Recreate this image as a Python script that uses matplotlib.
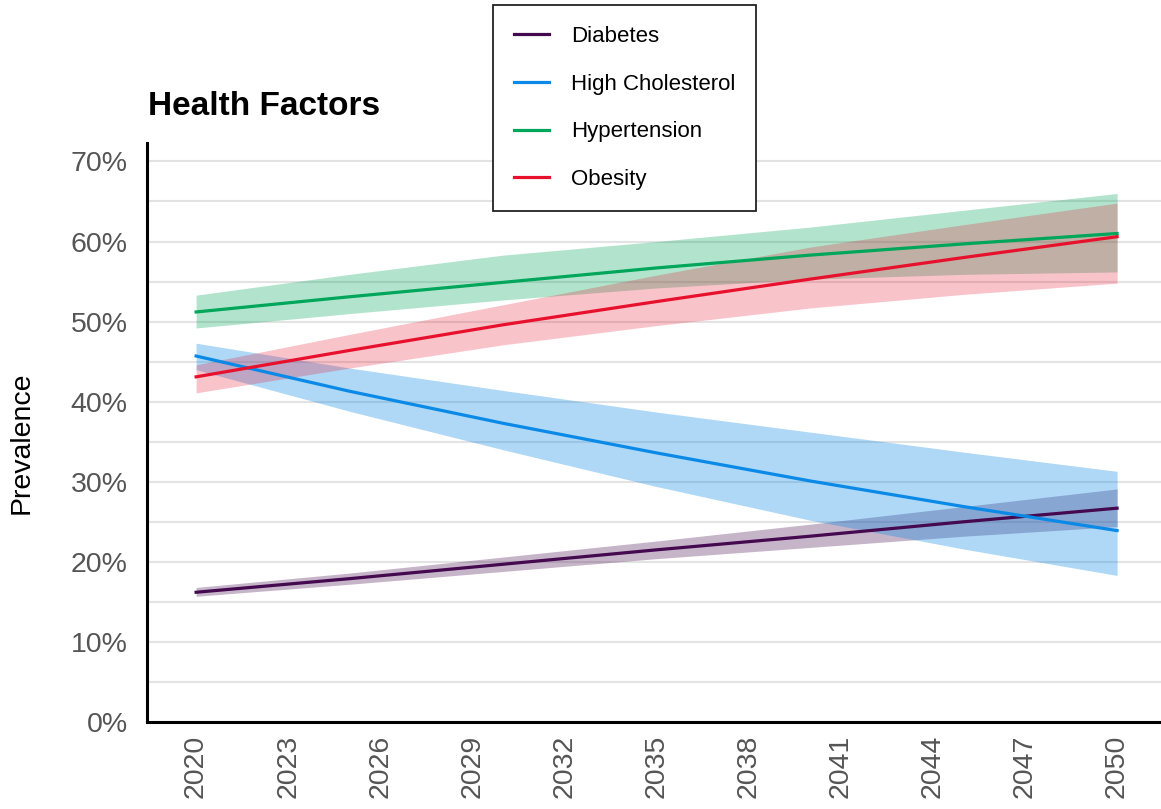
import matplotlib.pyplot as plt
from matplotlib.ticker import FuncFormatter, MultipleLocator

plt.rcParams['font.family'] = ['Liberation Sans', 'DejaVu Sans']

# Projected prevalence (%) with uncertainty bands
years = [2020, 2025, 2030, 2035, 2040, 2045, 2050]

diabetes = [16.2, 17.9, 19.7, 21.5, 23.2, 25.0, 26.7]
diabetes_lo = [15.7, 17.2, 18.8, 20.4, 21.8, 23.2, 24.4]
diabetes_hi = [16.8, 18.6, 20.6, 22.6, 24.7, 26.9, 29.1]

cholesterol = [45.7, 41.3, 37.3, 33.6, 30.1, 26.9, 23.9]
cholesterol_lo = [44.0, 38.8, 34.0, 29.4, 25.2, 21.6, 18.3]
cholesterol_hi = [47.3, 44.2, 41.4, 38.7, 36.2, 33.7, 31.3]

hypertension = [51.2, 53.1, 54.9, 56.7, 58.3, 59.7, 61.0]
hypertension_lo = [49.2, 51.0, 52.7, 54.2, 55.3, 55.9, 56.2]
hypertension_hi = [53.3, 55.9, 58.3, 60.0, 61.8, 63.9, 66.0]

obesity = [43.1, 46.4, 49.6, 52.5, 55.3, 58.0, 60.6]
obesity_lo = [41.1, 44.2, 47.1, 49.5, 51.7, 53.4, 54.8]
obesity_hi = [44.6, 48.4, 52.1, 55.8, 59.3, 62.1, 64.8]

tick_years = list(range(2020, 2051, 3))

fig = plt.figure(figsize=(11.61, 8.09), dpi=100)
ax = fig.add_axes([147 / 1161, 1 - 722 / 809, 1 - 147 / 1161, (722 - 143) / 809])

series = [
    ('Diabetes', diabetes, diabetes_lo, diabetes_hi, '#44094f', 0.3),
    ('High Cholesterol', cholesterol, cholesterol_lo, cholesterol_hi, '#0a8ae6', 0.33),
    ('Hypertension', hypertension, hypertension_lo, hypertension_hi, '#00a65a', 0.3),
    ('Obesity', obesity, obesity_lo, obesity_hi, '#e8112d', 0.25),
]

for name, mid, lo, hi, color, a in series:
    ax.fill_between(years, lo, hi, color=color, alpha=a, linewidth=0, zorder=2)
for name, mid, lo, hi, color, a in series:
    ax.plot(years, mid, color=color, linewidth=2.3, label=name, zorder=3)

ax.set_xlim(2018.4, 2051.43)
ax.set_ylim(0, 72.3)
ax.set_xticks(tick_years)
ax.yaxis.set_major_locator(MultipleLocator(10))
ax.yaxis.set_minor_locator(MultipleLocator(5))
ax.yaxis.set_major_formatter(FuncFormatter(lambda v, p: f'{v:.0f}%'))

ax.grid(axis='y', which='both', color='#e3e3e3', linewidth=1.5, zorder=0)
ax.set_axisbelow(True)
ax.tick_params(axis='both', which='both', length=0)
ax.tick_params(axis='y', labelsize=20.5, labelcolor='#555555', pad=14)
ax.tick_params(axis='x', labelsize=20.5, labelcolor='#555555', pad=9, labelrotation=90)

for side in ['top', 'right']:
    ax.spines[side].set_visible(False)
for side in ['left', 'bottom']:
    ax.spines[side].set_linewidth(2.2)
    ax.spines[side].set_color('black')

fig.text(148 / 1161, 1 - 115 / 809, 'Health Factors', fontsize=24,
         fontweight='bold', ha='left', va='baseline')
fig.text(22 / 1161, 1 - 443 / 809, 'Prevalence', fontsize=20.5,
         rotation=90, ha='center', va='center')

leg = ax.legend(loc='upper left', bbox_to_anchor=(493 / 1161, 1 - 5 / 809),
                bbox_transform=fig.transFigure, fontsize=16, frameon=True,
                fancybox=False, framealpha=1, edgecolor='#222222',
                borderpad=0.95, labelspacing=1.2, handlelength=1.55,
                handletextpad=1.0, borderaxespad=0)
leg.get_frame().set_linewidth(1.3)
leg.set_zorder(10)

fig.savefig('out.png', dpi=100)
